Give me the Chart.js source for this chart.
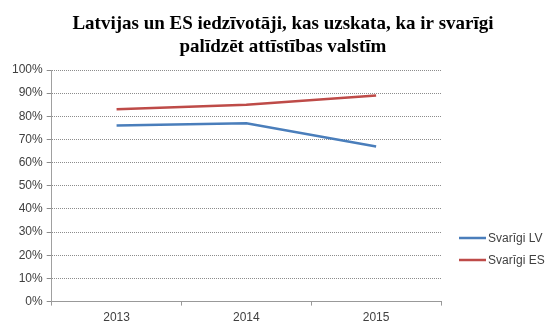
<!DOCTYPE html>
<html><head><meta charset="utf-8">
<script src="https://cdn.jsdelivr.net/npm/chart.js@4/dist/chart.umd.min.js"></script>
<style>html,body{margin:0;padding:0;background:#fff}#wrap{width:554px;height:333px;position:relative}</style>
</head><body><div id="wrap"><canvas id="c" width="554" height="333"></canvas></div>
<script>
const titleLines = ["Latvijas un ES iedzīvotāji, kas uzskata, ka ir svarīgi", "palīdzēt attīstības valstīm"];
const categories = ["2013", "2014", "2015"];
const seriesNames = ["Svarīgi LV", "Svarīgi ES"];
const valuesLV = [76, 77, 67];
const valuesES = [83, 85, 89];
const yTicks = [0, 10, 20, 30, 40, 50, 60, 70, 80, 90, 100];
const colors = ["#4A7EBB", "#BE4B48"];

const decorPlugin = {
  id: 'decor',
  afterDraw(chart) {
    const ctx = chart.ctx;
    ctx.save();
    // title
    ctx.fillStyle = '#000';
    ctx.font = 'bold 19px "Liberation Serif", "Times New Roman", serif';
    ctx.textAlign = 'center';
    ctx.textBaseline = 'alphabetic';
    ctx.fillText(titleLines[0], 283, 29);
    ctx.fillText(titleLines[1], 283, 52);
    // legend
    const ys = [238, 260];
    ctx.textAlign = 'left';
    chart.data.datasets.forEach((ds, i) => {
      const y = ys[i];
      ctx.strokeStyle = ds.borderColor;
      ctx.lineWidth = 2.5;
      ctx.beginPath(); ctx.moveTo(459, y); ctx.lineTo(486, y); ctx.stroke();
      ctx.fillStyle = '#404040';
      ctx.font = '12px "Liberation Sans", Arial, sans-serif';
      ctx.textBaseline = 'middle';
      ctx.fillText(ds.label, 488, y + 0.5);
    });
    ctx.restore();
  }
};

new Chart(document.getElementById('c'), {
  type: 'line',
  data: {
    labels: categories,
    datasets: [
      {label: seriesNames[0], data: valuesLV, borderColor: colors[0], backgroundColor: colors[0], borderWidth: 2.5, pointRadius: 0, tension: 0},
      {label: seriesNames[1], data: valuesES, borderColor: colors[1], backgroundColor: colors[1], borderWidth: 2.5, pointRadius: 0, tension: 0}
    ]
  },
  options: {
    responsive: false,
    animation: false,
    layout: {padding: {left: 8, right: 113, top: 70, bottom: 3}},
    plugins: {
      legend: {display: false},
      tooltip: {enabled: false},
      title: {display: false}
    },
    scales: {
      x: {
        offset: true,
        grid: {display: true, drawOnChartArea: false, offset: true, color: '#999', tickLength: 4},
        border: {display: true, color: '#999', dash: [1, 1]},
        ticks: {color: '#404040', font: {family: '"Liberation Sans", Arial, sans-serif', size: 12}, padding: 5}
      },
      y: {
        min: 0, max: 100,
        afterBuildTicks(scale) { scale.ticks = yTicks.map(v => ({value: v})); },
        grid: {color: '#8c8c8c', lineWidth: 1, tickLength: 5, tickColor: '#8c8c8c'},
        border: {display: true, color: '#a0a0a0', width: 1, dash: [1, 1]},
        ticks: {color: '#404040', font: {family: '"Liberation Sans", Arial, sans-serif', size: 12}, padding: 4, callback: v => v + '%'}
      }
    }
  },
  plugins: [decorPlugin]
});
</script></body></html>
